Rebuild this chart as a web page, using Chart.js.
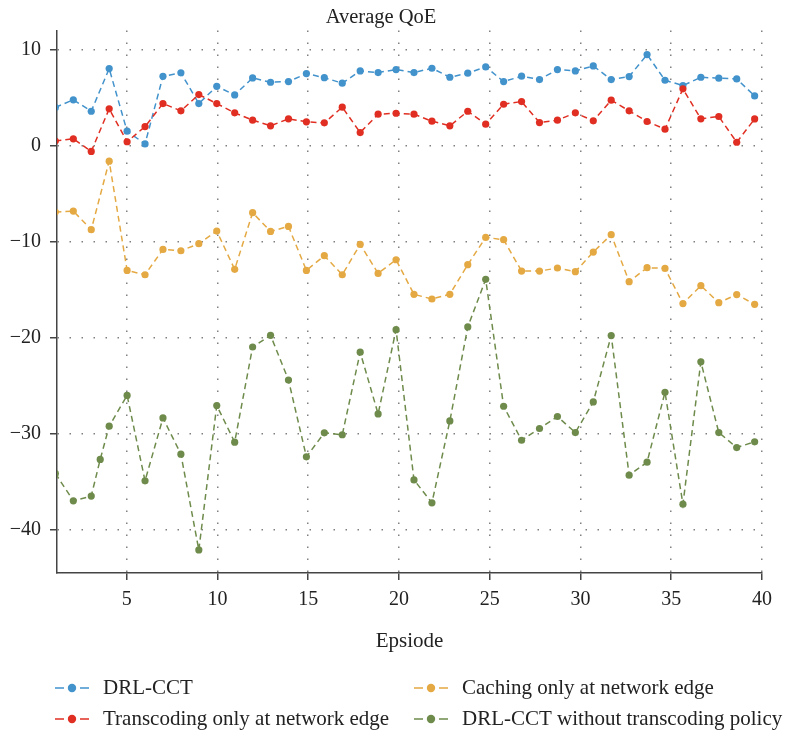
<!DOCTYPE html>
<html>
<head>
<meta charset="utf-8">
<script src="https://cdn.jsdelivr.net/npm/chart.js@4.4.1/dist/chart.umd.min.js"></script>
<style>
  html, body { margin: 0; padding: 0; background: #fff; }
</style>
</head>
<body>
<canvas id="qoeChart" width="792" height="735"></canvas>
<script>
// Episodes (x) and Average QoE values
const episodes = [1, 2, 3, 4, 5, 6, 7, 8, 9, 10, 11, 12, 13, 14, 15, 16, 17, 18, 19, 20,
                  21, 22, 23, 24, 25, 26, 27, 28, 29, 30, 31, 32, 33, 34, 35, 36, 37, 38, 39, 40];
// the green curve has one extra sample between episode 3 and 4
const noTransEpisodes = [1, 2, 3, 3.5, 4, 5, 6, 7, 8, 9, 10, 11, 12, 13, 14, 15, 16, 17, 18, 19, 20,
                         21, 22, 23, 24, 25, 26, 27, 28, 29, 30, 31, 32, 33, 34, 35, 36, 37, 38, 39, 40];

const drlCct = [4.0, 4.79, 3.6, 8.04, 1.52, 0.2, 7.24, 7.6, 4.4, 6.2, 5.3, 7.07, 6.62, 6.69, 7.52, 7.1,
                6.52, 7.8, 7.63, 7.94, 7.63, 8.08, 7.14, 7.56, 8.22, 6.69, 7.25, 6.9, 7.94, 7.8,
                8.32, 6.9, 7.21, 9.5, 6.83, 6.27, 7.14, 7.04, 6.97, 5.2];
const transcodingOnly = [0.5, 0.73, -0.59, 3.85, 0.42, 2.0, 4.4, 3.64, 5.34, 4.4, 3.43, 2.67, 2.08, 2.81,
                         2.5, 2.39, 4.02, 1.38, 3.29, 3.39, 3.29, 2.56, 2.08, 3.6, 2.25, 4.33, 4.61, 2.42,
                         2.67, 3.43, 2.6, 4.75, 3.64, 2.53, 1.73, 5.93, 2.81, 3.05, 0.37, 2.8];
const cachingOnly = [-6.9, -6.8, -8.74, -1.6, -12.98, -13.43, -10.79, -10.93, -10.2, -8.88, -12.87, -6.97,
                     -8.92, -8.4, -12.98, -11.45, -13.43, -10.27, -13.29, -11.87, -15.47, -15.96, -15.47,
                     -12.38, -9.54, -9.78, -13.05, -13.05, -12.73, -13.11, -11.07, -9.26, -14.15, -12.7,
                     -12.77, -16.44, -14.57, -16.34, -15.5, -16.51];
const noTranscoding = [-34.13, -36.98, -36.49, -32.67, -29.21, -26.0, -34.9, -28.35, -32.12, -42.1, -27.05,
                       -30.87, -20.96, -19.74, -24.4, -32.4, -29.9, -30.1, -21.5, -27.93, -19.15, -34.8,
                       -37.19, -28.66, -18.87, -13.91, -27.13, -30.67, -29.45, -28.2, -29.87, -26.68,
                       -19.77, -34.31, -32.96, -25.67, -37.33, -22.5, -29.87, -31.43, -30.84];

const xTickValues = [5, 10, 15, 20, 25, 30, 35, 40];
const yTickValues = [10, 0, -10, -20, -30, -40];

const seriesLabels = ['DRL-CCT', 'Transcoding only at network edge',
                      'Caching only at network edge', 'DRL-CCT without transcoding policy'];
const seriesColors = ['#4292cc', '#e02f22', '#e4a943', '#6e8b4b'];

const serif = 'Liberation Serif';
const textColor = '#222';

function toPoints(xs, ys) {
    return xs.map((x, i) => ({ x: x, y: ys[i] }));
}

function makeDataset(idx, xs, ys) {
    return {
        label: seriesLabels[idx],
        data: toPoints(xs, ys),
        borderColor: seriesColors[idx],
        backgroundColor: seriesColors[idx],
        pointBackgroundColor: seriesColors[idx],
        pointBorderWidth: 0,
        pointRadius: 3.6,
        borderWidth: 1.5,
        borderDash: [6, 4],
        tension: 0,
        xAxisID: 'x',
        order: 4 - idx
    };
}

// two-column legend: dashed stroke with a dot, like the figure
const legendPlugin = {
    id: 'dashLegend',
    afterDraw(chart) {
        const ctx = chart.ctx;
        const slots = [[55, 688], [55, 719], [414, 688], [414, 719]];
        ctx.save();
        chart.data.datasets.forEach((ds, i) => {
            const [x, y] = slots[i];
            ctx.strokeStyle = ds.borderColor;
            ctx.lineWidth = 1.5;
            ctx.setLineDash([]);
            ctx.beginPath();
            ctx.moveTo(x, y); ctx.lineTo(x + 9, y);
            ctx.moveTo(x + 25, y); ctx.lineTo(x + 34, y);
            ctx.stroke();
            ctx.fillStyle = ds.borderColor;
            ctx.beginPath();
            ctx.arc(x + 17, y, 4.2, 0, Math.PI * 2);
            ctx.fill();
            ctx.fillStyle = textColor;
            ctx.font = '21px "' + serif + '"';
            ctx.textBaseline = 'middle';
            ctx.textAlign = 'left';
            ctx.fillText(ds.label, x + 48, y);
        });
        ctx.restore();
    }
};

const gridStyle = {
    color: '#808080',
    lineWidth: 1.5,
    drawTicks: true,
    tickLength: 7,
    tickColor: '#444',
    tickWidth: 1.5
};

const ctx = document.getElementById('qoeChart').getContext('2d');
new Chart(ctx, {
    type: 'line',
    data: {
        datasets: [
            makeDataset(0, episodes, drlCct),
            makeDataset(1, episodes, transcodingOnly),
            makeDataset(2, episodes, cachingOnly),
            makeDataset(3, noTransEpisodes, noTranscoding)
        ]
    },
    plugins: [legendPlugin],
    options: {
        responsive: false,
        devicePixelRatio: 1,
        animation: false,
        layout: { padding: { left: 0, right: 30, top: 0, bottom: 74 } },
        plugins: {
            legend: { display: false },
            tooltip: { enabled: false },
            title: {
                display: true,
                text: 'Average QoE',
                color: textColor,
                font: { family: serif, size: 20.5, weight: 'normal' },
                padding: { top: 5, bottom: 1 }
            }
        },
        scales: {
            x: {
                type: 'linear',
                display: false,
                min: 1.09,
                max: 40.41
            },
            xTicks: {
                type: 'linear',
                position: 'bottom',
                min: 1.16,
                max: 40,
                afterBuildTicks: s => { s.ticks = xTickValues.map(v => ({ value: v })); },
                afterFit: s => { s.height = 88; },
                grid: gridStyle,
                border: { display: true, color: '#444', width: 1.5, dash: [1.5, 10.5] },
                ticks: {
                    color: textColor,
                    font: { family: serif, size: 20 },
                    padding: 8,
                    maxRotation: 0,
                    autoSkip: false
                },
                title: {
                    display: true,
                    text: 'Epsiode',
                    color: textColor,
                    font: { family: serif, size: 21 },
                    padding: { top: 0, bottom: 7 }
                }
            },
            y: {
                type: 'linear',
                min: -44.5,
                max: 12,
                afterBuildTicks: s => { s.ticks = yTickValues.map(v => ({ value: v })); },
                afterFit: s => { s.width = 57; },
                grid: gridStyle,
                border: { display: true, color: '#444', width: 1.5, dash: [1.5, 10.5] },
                ticks: {
                    color: textColor,
                    font: { family: serif, size: 20 },
                    padding: 9,
                    callback: v => String(v).replace('-', '\u2212')
                }
            }
        }
    }
});
</script>
</body>
</html>
